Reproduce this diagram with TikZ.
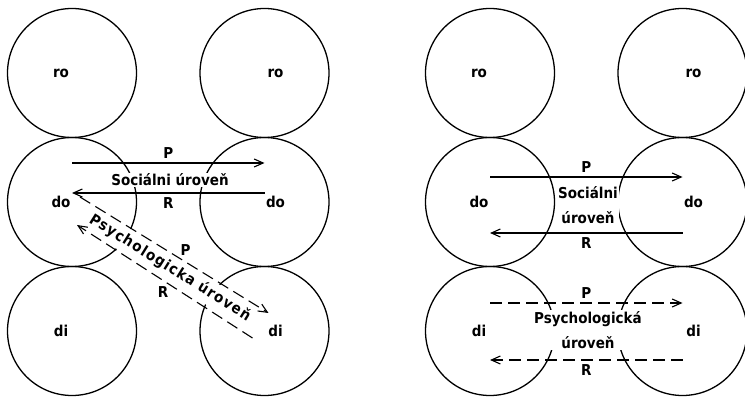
\documentclass[tikz,border=0pt]{standalone}
\usepackage{fontspec}
\setmainfont{DejaVu Sans Condensed}[BoldFont={DejaVu Sans Condensed Bold}]
\usetikzlibrary{arrows.meta}
\begin{document}
\begin{tikzpicture}[x=1pt,y=-1pt,
  ball/.style={circle,draw,line width=1.3pt,minimum size=129pt,inner sep=0pt},
  lbl/.style={font=\bfseries\fontsize{15}{18}\selectfont,inner sep=2pt},
  lvl/.style={fill=white,inner sep=1pt,align=center,font=\bfseries\fontsize{15}{25}\selectfont},
  arr/.style={line width=1.1pt,-{Straight Barb[length=9pt,width=8pt]}},
  dsh/.style={arr,dash pattern=on 12pt off 6pt}]
  \useasboundingbox (0,0) rectangle (745,398);
  \foreach \p/\x in {L/72,R/490}
    \foreach \t/\y in {ro/73,do/202,di/331}{
      \node[ball] (\p\t1) at (\x,\y) {};
      \node[ball] (\p\t2) at (\x+192.5,\y) {};
      \node[lbl] at ([xshift=-11pt]\p\t1.center) {\t};
      \node[lbl] at ([xshift=11pt]\p\t2.center) {\t};
    }
  \node[lvl] (Lsoc) at (170,180) {Sociálni úroveň};
  \node[lvl,rotate=-32,minimum height=24pt] (Lpsy) at (170,268) {\addfontfeature{LetterSpace=8}Psychologicka úroveň};
  \draw[arr] ([yshift=39pt]Ldo1.center) -- ([yshift=39pt]Ldo2.center) node[lbl,midway,above=2pt] {P};
  \draw[arr] ([yshift=9pt]Ldo2.center) -- ([yshift=9pt]Ldo1.center) node[lbl,midway,below=2pt] {R};
  \draw[dsh] ([shift={(8,-5)}]Ldo1.center) -- ([shift={(4,-18)}]Ldi2.center) node[lbl,pos=0.56,above=4pt] {P};
  \draw[dsh] ([shift={(-12,7)}]Ldi2.center) -- ([shift={(5,23)}]Ldo1.center) node[lbl,pos=0.51,below=4pt] {R};
  \node[lvl] (Rsoc) at (588,205) {Sociálni\\úroveň};
  \node[lvl] (Rpsy) at (588,330) {Psychologická\\úroveň};
  \draw[arr] ([yshift=25pt]Rdo1.center) -- ([yshift=25pt]Rdo2.center) node[lbl,midway,above=2pt] {P};
  \draw[arr] ([yshift=-31pt]Rdo2.center) -- ([yshift=-31pt]Rdo1.center) node[lbl,midway,below=2pt] {R};
  \draw[dsh] ([yshift=28pt]Rdi1.center) -- ([yshift=28pt]Rdi2.center) node[lbl,midway,above=2pt] {P};
  \draw[dsh] ([yshift=-29pt]Rdi2.center) -- ([yshift=-29pt]Rdi1.center) node[lbl,midway,below=2pt] {R};
\end{tikzpicture}
\end{document}
